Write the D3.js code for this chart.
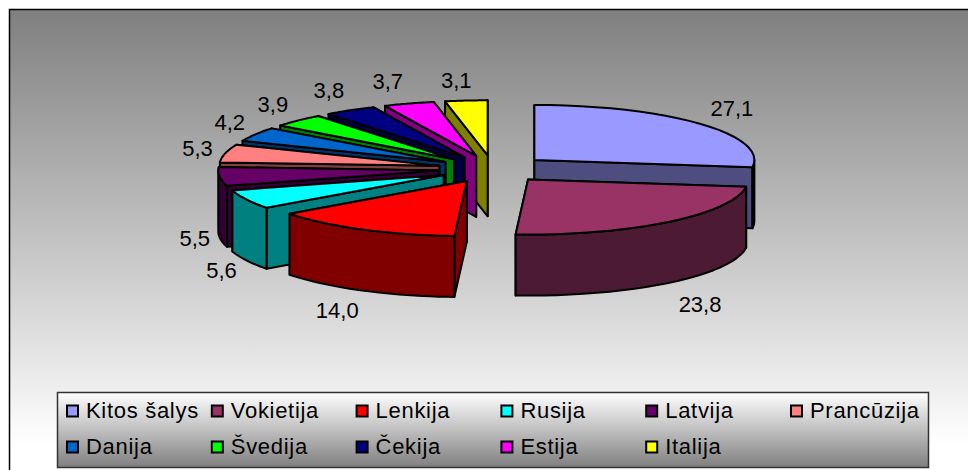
<!DOCTYPE html>
<html>
<head>
<meta charset="utf-8">
<script src="https://cdn.jsdelivr.net/npm/d3@7"></script>
<style>
  html, body { margin: 0; padding: 0; background: #fff; overflow: hidden; }
  svg { display: block; }
  text { font-family: "Liberation Sans", Arial, sans-serif; font-size: 22px; }
  .item text { letter-spacing: 0.7px; }
</style>
</head>
<body>
<div id="chart"></div>
<script>
const countries = ["Kitos šalys", "Vokietija", "Lenkija", "Rusija", "Latvija", "Prancūzija", "Danija", "Švedija", "Čekija", "Estija", "Italija"]
const shares = [27.1, 23.8, 14.0, 5.6, 5.5, 5.3, 4.2, 3.9, 3.8, 3.7, 3.1]
const topColors = ["#9999ff", "#993366", "#ff0000", "#00ffff", "#660066", "#ff8080", "#0066cc", "#00ff00", "#000080", "#ff00ff", "#ffff00"]
const wallColors = ["#4d4d80", "#4d1a33", "#800000", "#008080", "#330033", "#804040", "#003366", "#008000", "#000040", "#800080", "#808000"]
// painter's order, back slices first
const drawOrder = [0, 10, 9, 8, 7, 6, 5, 4, 3, 2, 1]

const width = 968
const height = 470
const cx = 493, cy = 169      // pie centre before explosion
const rx = 220, ry = 55       // squashed radius of the top face
const depth = 61
const explode = 0.25

const svg = d3.select("#chart").append("svg")
  .attr("width", width)
  .attr("height", height)

const defs = svg.append("defs")
const bgGrad = defs.append("linearGradient")
  .attr("id", "bg-grad")
  .attr("gradientUnits", "userSpaceOnUse")
  .attr("x1", 0).attr("y1", 9).attr("x2", 0).attr("y2", 445)
bgGrad.append("stop").attr("offset", "0%").attr("stop-color", "#7f7f7f")
bgGrad.append("stop").attr("offset", "100%").attr("stop-color", "#ffffff")
const legendGrad = defs.append("linearGradient")
  .attr("id", "legend-grad").attr("x1", 0).attr("y1", 0).attr("x2", 0).attr("y2", 1)
legendGrad.append("stop").attr("offset", "0%").attr("stop-color", "#ffffff")
legendGrad.append("stop").attr("offset", "100%").attr("stop-color", "#7f7f7f")

// frame runs off the right and bottom of the picture
svg.append("rect")
  .attr("x", 9.5).attr("y", 9.5)
  .attr("width", width).attr("height", height)
  .attr("fill", "url(#bg-grad)")
  .attr("stroke", "#000")
  .attr("stroke-width", 1.5)

// Pie
const arcs = d3.pie().sort(null)(shares)
const project = (a, r = 1) => [rx * r * Math.sin(a), -ry * r * Math.cos(a)]

const slices = arcs.map((d, i) => {
  const mid = (d.startAngle + d.endAngle) / 2
  const [ox, oy] = project(mid, explode)
  return { ...d, index: i, mid, x: cx + ox, y: cy + oy }
})

const line = d3.line()
const pie = svg.append("g").attr("stroke", "#000").attr("stroke-width", 2).attr("stroke-linejoin", "round")

drawOrder.forEach(i => {
  const s = slices[i]
  const at = (a, dy = 0) => {
    const [px, py] = project(a)
    return [s.x + px, s.y + py + dy]
  }
  const radialWall = a => [[s.x, s.y], at(a), at(a, depth), [s.x, s.y + depth]]

  // end wall is seen when sin(end) > 0, start wall when sin(start) < 0
  const walls = [
    { a: s.startAngle, seen: Math.sin(s.startAngle) < 0 },
    { a: s.endAngle, seen: Math.sin(s.endAngle) > 0 }
  ].sort((p, q) => p.seen - q.seen)
  walls.forEach(w => {
    pie.append("path").attr("d", line(radialWall(w.a)) + "Z").attr("fill", wallColors[i])
  })

  // rim, only the front half of the circle
  const from = Math.max(s.startAngle, Math.PI / 2)
  const to = Math.min(s.endAngle, 3 * Math.PI / 2)
  if (to > from) {
    const angles = d3.range(0, 25).map(k => from + (to - from) * k / 24)
    const rim = angles.map(a => at(a)).concat(angles.slice().reverse().map(a => at(a, depth)))
    pie.append("path").attr("d", line(rim) + "Z").attr("fill", wallColors[i])
  }

  const top = d3.range(0, 25).map(k => at(s.startAngle + (s.endAngle - s.startAngle) * k / 24))
  pie.append("path").attr("d", line([[s.x, s.y], ...top]) + "Z").attr("fill", topColors[i])
})

// Data labels
const fmt = v => v.toFixed(1).replace(".", ",")
// small hand nudges, the label placement is not quite regular: [dx, dy] per slice
const labelNudge = [[-1, 0], [1, 3], [-2, -2], [2, -1], [3, -2], [0, 0], [1, 0], [0, 0], [2, 0], [0, 0], [9, 3]]
svg.append("g").attr("text-anchor", "middle").attr("fill", "#000")
  .selectAll("text")
  .data(slices)
  .join("text")
  .attr("x", d => d.x + (Math.sin(d.mid) > 0 ? 240 : 230) * Math.sin(d.mid) + (Math.sin(d.mid) > 0 ? 18 : -18) + labelNudge[d.index][0])
  .attr("y", d => d.y - 79 * Math.cos(d.mid) + (Math.cos(d.mid) < 0 ? depth : 0) + 8 + labelNudge[d.index][1])
  .text(d => fmt(d.data))

// Legend
const legend = svg.append("g")
legend.append("rect")
  .attr("x", 57.5).attr("y", 392.5).attr("width", 871).attr("height", 75)
  .attr("fill", "url(#legend-grad)")
  .attr("stroke", "#333")
  .attr("stroke-width", 1.5)

const colX = d3.scaleLinear().domain([0, 5]).range([66, 790])
const rowY = d3.scaleLinear().domain([0, 1]).range([411, 447])

const items = legend.selectAll("g.item")
  .data(countries)
  .join("g")
  .attr("class", "item")
  .attr("transform", (d, i) => `translate(${colX(i % 6)},${rowY(Math.floor(i / 6))})`)
items.append("rect")
  .attr("x", 1).attr("y", -5.5).attr("width", 11).attr("height", 11)
  .attr("fill", (d, i) => topColors[i])
  .attr("stroke", "#000").attr("stroke-width", 2)
items.append("text")
  .attr("x", 20).attr("y", 6.5)
  .attr("fill", "#000")
  .text(d => d)
</script>
</body>
</html>
